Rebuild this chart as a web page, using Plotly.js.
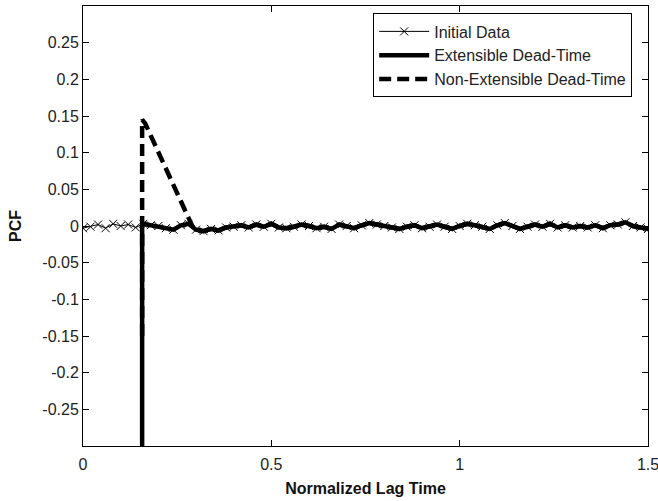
<!DOCTYPE html>
<html>
<head>
<meta charset="utf-8">
<script src="https://cdn.plot.ly/plotly-3.0.1.min.js"></script>
<style>html,body{margin:0;padding:0;background:#fff;}#chart{width:658px;height:501px;}</style>
</head>
<body>
<div id="chart"></div>
<script>
// Normalized lag time samples
var lagTime = [0.00,0.02,0.04,0.06,0.08,0.10,0.12,0.14,0.16,0.18,0.20,0.22,0.24,0.26,0.28,0.30,0.32,0.34,0.36,0.38,
  0.40,0.42,0.44,0.46,0.48,0.50,0.52,0.54,0.56,0.58,0.60,0.62,0.64,0.66,0.68,0.70,0.72,0.74,0.76,0.78,
  0.80,0.82,0.84,0.86,0.88,0.90,0.92,0.94,0.96,0.98,1.00,1.02,1.04,1.06,1.08,1.10,1.12,1.14,1.16,1.18,
  1.20,1.22,1.24,1.26,1.28,1.30,1.32,1.34,1.36,1.38,1.40,1.42,1.44,1.46,1.48,1.50];
// Initial PCF data (noise around zero)
var initialPCF = [-0.003,-0.001,0.002,-0.003,0.003,0.000,0.002,-0.002,0.003,0.001,0.000,-0.003,-0.005,0.001,0.003,-0.005,-0.007,-0.004,-0.006,-0.002,
  -0.001,0.001,-0.002,0.002,-0.001,0.003,-0.002,-0.003,-0.001,0.002,0.000,-0.003,-0.001,-0.004,0.002,0.000,-0.003,0.001,0.004,0.002,
  0.000,-0.002,-0.004,-0.001,0.001,-0.003,-0.001,0.002,-0.001,-0.004,0.000,0.003,0.001,-0.001,-0.004,0.001,0.004,0.000,-0.004,-0.001,
  0.002,-0.001,0.003,-0.002,0.001,-0.002,0.000,-0.002,0.001,-0.003,0.001,0.002,0.005,0.000,-0.002,-0.004];
// Dead-time corrected leading parts
var extHeadX = [0.157, 0.157];
var extHeadY = [-0.31, 0.000];
var nonExtHeadX = [0.157, 0.157, 0.165, 0.290];
var nonExtHeadY = [-0.150, 0.145, 0.140, 0.000];
// Labels
var seriesNames = ['Initial Data', 'Extensible Dead-Time', 'Non-Extensible Dead-Time'];
var xTickVals = [0, 0.5, 1, 1.5];
var xTickText = ['0', '0.5', '1', '1.5'];
var yTickVals = [-0.25,-0.2,-0.15,-0.1,-0.05,0,0.05,0.1,0.15,0.2,0.25];
var yTickText = ['-0.25','-0.2','-0.15','-0.1','-0.05','0','0.05','0.1','0.15','0.2','0.25'];

function tail(fromX) {
  var xs = [], ys = [];
  for (var i = 0; i < lagTime.length; i++) {
    if (lagTime[i] > fromX) { xs.push(lagTime[i]); ys.push(initialPCF[i]); }
  }
  return {x: xs, y: ys};
}
var extTail = tail(0.157);
var nonExtTail = tail(0.29);

var FONT = 'Liberation Sans, Arial, sans-serif';
var traces = [
  {x: lagTime, y: initialPCF, name: seriesNames[0], mode: 'lines+markers', type: 'scatter',
   line: {color: '#000', width: 1}, marker: {symbol: 'x-thin-open', size: 8, color: '#000', line: {color: '#000', width: 1}}},
  {x: extHeadX.concat(extTail.x), y: extHeadY.concat(extTail.y), name: seriesNames[1], mode: 'lines', type: 'scatter',
   line: {color: '#000', width: 4.5}},
  {x: nonExtHeadX.concat(nonExtTail.x), y: nonExtHeadY.concat(nonExtTail.y), name: seriesNames[2], mode: 'lines', type: 'scatter',
   line: {color: '#000', width: 4.5, dash: '12px,6px'}}
];

var axisCommon = {showline: true, linecolor: '#000', linewidth: 1, mirror: 'ticks', ticks: 'inside', ticklen: 6,
  tickcolor: '#000', showgrid: false, zeroline: false, ticklabeloverflow: 'allow',
  tickfont: {family: FONT, size: 16, color: '#222'}};

var layout = {
  width: 658, height: 501,
  margin: {l: 83, r: 10, t: 6, b: 55},
  paper_bgcolor: '#fff', plot_bgcolor: '#fff',
  showlegend: true,
  legend: {x: 0.972, xanchor: 'right', y: 0.983, yanchor: 'top', bordercolor: '#000', borderwidth: 1,
    bgcolor: '#fff', font: {family: FONT, size: 16, color: '#222'},
    tracegroupgap: 0, itemwidth: 50},
  xaxis: Object.assign({}, axisCommon, {range: [0, 1.5], tickvals: xTickVals, ticktext: xTickText, ticklabelstandoff: 4,
    title: {text: 'Normalized Lag Time', font: {family: FONT, size: 16, color: '#111', weight: 'bold'}, standoff: 10}}),
  yaxis: Object.assign({}, axisCommon, {range: [-0.3, 0.3], tickvals: yTickVals, ticktext: yTickText,
    title: {text: 'PCF', font: {family: FONT, size: 16, color: '#111', weight: 'bold'}, standoff: 16}})
};

Plotly.newPlot('chart', traces, layout, {displayModeBar: false, staticPlot: true});
</script>
</body>
</html>
